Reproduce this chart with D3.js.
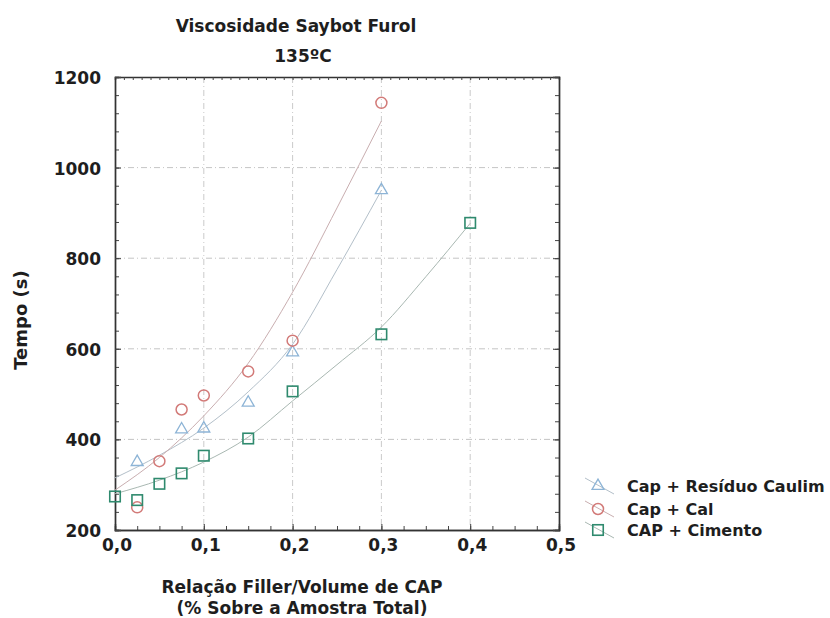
<!DOCTYPE html>
<html>
<head>
<meta charset="utf-8">
<script src="https://cdn.jsdelivr.net/npm/d3@7"></script>
<style>
  body { margin: 0; background: #fff; }
  svg { display: block; }
  text { font-family: "DejaVu Sans", Arial, sans-serif; font-weight: bold; fill: #1e1e1e; }
</style>
</head>
<body>
<svg id="chart" width="830" height="618"></svg>
<script>
// ---- data ----
const xTicks = [0, 0.1, 0.2, 0.3, 0.4, 0.5];
const xTickLabels = ["0,0", "0,1", "0,2", "0,3", "0,4", "0,5"];
const yTicks = [200, 400, 600, 800, 1000, 1200];
const yTickLabels = ["200", "400", "600", "800", "1000", "1200"];

const seriesNames = ["Cap + Resíduo Caulim", "Cap + Cal", "CAP + Cimento"];

const caulimX = [0.025, 0.075, 0.1, 0.15, 0.2, 0.3];
const caulimY = [350, 422, 424, 481, 592, 950];
const calX = [0.025, 0.05, 0.075, 0.1, 0.15, 0.2, 0.3];
const calY = [250, 352, 466, 497, 550, 618, 1143];
const cimentoX = [0, 0.025, 0.05, 0.075, 0.1, 0.15, 0.2, 0.3, 0.4];
const cimentoY = [274, 266, 302, 325, 364, 402, 506, 632, 878];

// fitted curves, read along x from the picture
const caulimFitX = [0, 0.05, 0.1, 0.15, 0.2, 0.25, 0.3];
const caulimFitY = [315, 365, 425, 505, 610, 775, 950];
const calFitX = [0, 0.05, 0.1, 0.15, 0.2, 0.25, 0.3];
const calFitY = [288, 360, 452, 568, 725, 911, 1103];
const cimentoFitX = [0, 0.05, 0.1, 0.15, 0.2, 0.25, 0.3, 0.35, 0.4];
const cimentoFitY = [280, 310, 350, 405, 485, 565, 648, 759, 877];

// ---- layout ----
const svg = d3.select("#chart");
const L = 115, R = 559, T = 77, B = 530;
const x = d3.scaleLinear().domain([0, 0.5]).range([L, R]);
const y = d3.scaleLinear().domain([200, 1200]).range([B, T]);

const colors = { caulim: "#8db4d6", cal: "#d27a78", cimento: "#2f8a6e" };
const fitColors = { caulim: "#b3bfc9", cal: "#c9aeb0", cimento: "#a9b8b2" };

// gridlines
const g = svg.append("g");
g.selectAll(".gx").data(xTicks.slice(1, -1)).join("line")
  .attr("x1", d => x(d)).attr("x2", d => x(d)).attr("y1", T).attr("y2", B)
  .attr("stroke", "#bdbdbd").attr("stroke-width", 0.8).attr("stroke-dasharray", "6,3,1,3");
g.selectAll(".gy").data(yTicks.slice(1, -1)).join("line")
  .attr("x1", L).attr("x2", R).attr("y1", d => y(d)).attr("y2", d => y(d))
  .attr("stroke", "#b5b5b5").attr("stroke-width", 0.8).attr("stroke-dasharray", "6,3,1,3");

// axes (ticks inward, mirrored)
const xMinorB = d3.range(0, 0.5001, 0.025);
const xMinorT = d3.range(0, 0.5001, 0.01);
const yMinor = d3.range(200, 1200.1, 40);

const axB = d3.axisBottom(x).tickValues(xMinorB).tickSize(-4).tickFormat("");
const axT = d3.axisTop(x).tickValues(xMinorT).tickSize(-3).tickFormat("");
const axL = d3.axisLeft(y).tickValues(yMinor).tickSize(-4).tickFormat("");
const axR = d3.axisRight(y).tickValues(yMinor).tickSize(-4).tickFormat("");

function styleAxis(sel) {
  sel.select(".domain").attr("stroke", "#333").attr("stroke-width", 1.4);
  sel.selectAll(".tick line").attr("stroke", "#444").attr("stroke-width", 1);
}
svg.append("g").attr("transform", `translate(0,${B})`).call(axB).call(styleAxis);
svg.append("g").attr("transform", `translate(0,${T})`).call(axT).call(styleAxis);
svg.append("g").attr("transform", `translate(${L},0)`).call(axL).call(styleAxis);
svg.append("g").attr("transform", `translate(${R},0)`).call(axR).call(styleAxis);
// major ticks a bit longer
svg.append("g").attr("transform", `translate(0,${B})`)
  .call(d3.axisBottom(x).tickValues(xTicks).tickSize(-6).tickFormat("")).call(styleAxis);
svg.append("g").attr("transform", `translate(${L},0)`)
  .call(d3.axisLeft(y).tickValues(yTicks).tickSize(-6).tickFormat("")).call(styleAxis);
svg.append("g").attr("transform", `translate(${R},0)`)
  .call(d3.axisRight(y).tickValues(yTicks).tickSize(-6).tickFormat("")).call(styleAxis);

// tick labels
svg.append("g").selectAll("text").data(xTicks).join("text")
  .attr("x", d => x(d) + 2).attr("y", 551).attr("text-anchor", "middle")
  .attr("font-size", 17).text((d, i) => xTickLabels[i]);
svg.append("g").selectAll("text").data(yTicks).join("text")
  .attr("x", 101).attr("y", d => y(d) + 7).attr("text-anchor", "end")
  .attr("font-size", 17).text((d, i) => yTickLabels[i]);

// titles
svg.append("text").attr("x", 296).attr("y", 32).attr("text-anchor", "middle")
  .attr("font-size", 17).text("Viscosidade Saybot Furol");
svg.append("text").attr("x", 303).attr("y", 62).attr("text-anchor", "middle")
  .attr("font-size", 17).text("135ºC");
svg.append("text").attr("transform", "translate(27,320) rotate(-90)")
  .attr("text-anchor", "middle").attr("font-size", 18).text("Tempo (s)");
svg.append("text").attr("x", 302).attr("y", 593).attr("text-anchor", "middle")
  .attr("font-size", 17).text("Relação Filler/Volume de CAP");
svg.append("text").attr("x", 302).attr("y", 614).attr("text-anchor", "middle")
  .attr("font-size", 17).text("(% Sobre a Amostra Total)");

// fitted curves
const line = d3.line().x(d => x(d[0])).y(d => y(d[1])).curve(d3.curveMonotoneX);
const fits = [
  { key: "caulim", xs: caulimFitX, ys: caulimFitY },
  { key: "cal", xs: calFitX, ys: calFitY },
  { key: "cimento", xs: cimentoFitX, ys: cimentoFitY }
];
svg.append("g").selectAll("path").data(fits).join("path")
  .attr("d", f => line(f.xs.map((v, i) => [v, f.ys[i]])))
  .attr("fill", "none").attr("stroke", f => fitColors[f.key]).attr("stroke-width", 1);

// symbols
const tri = d3.symbol().type(d3.symbolTriangle).size(62);
function drawTri(sel) { sel.attr("d", tri()).attr("fill", "none").attr("stroke", colors.caulim).attr("stroke-width", 1.3); }
function drawCirc(sel) { sel.attr("r", 5.5).attr("fill", "none").attr("stroke", colors.cal).attr("stroke-width", 1.5); }
function drawSq(sel) { sel.attr("width", 10.5).attr("height", 10.5).attr("x", -5.25).attr("y", -5.25)
  .attr("fill", "none").attr("stroke", colors.cimento).attr("stroke-width", 1.6); }

svg.append("g").selectAll("path").data(caulimX).join("path")
  .attr("transform", (d, i) => `translate(${x(d)},${y(caulimY[i])})`).call(drawTri);
svg.append("g").selectAll("circle").data(calX).join("circle")
  .attr("cx", d => x(d)).attr("cy", (d, i) => y(calY[i])).call(drawCirc);
svg.append("g").selectAll("g").data(cimentoX).join("g")
  .attr("transform", (d, i) => `translate(${x(d)},${y(cimentoY[i])})`)
  .append("rect").call(drawSq);

// legend
const leg = svg.append("g");
const legKeys = ["caulim", "cal", "cimento"];
const legY = [486, 509, 530];
legKeys.forEach((k, i) => {
  const gy = legY[i];
  leg.append("line").attr("x1", 585).attr("y1", gy - 8).attr("x2", 614).attr("y2", gy + 8)
    .attr("stroke", fitColors[k]).attr("stroke-width", 1);
  const s = leg.append("g").attr("transform", `translate(598,${gy})`);
  if (k === "caulim") s.append("path").call(drawTri);
  else if (k === "cal") s.append("circle").call(drawCirc);
  else s.append("rect").call(drawSq);
  leg.append("text").attr("x", 627).attr("y", gy + 6).attr("font-size", 16).text(seriesNames[i]);
});
</script>
</body>
</html>
